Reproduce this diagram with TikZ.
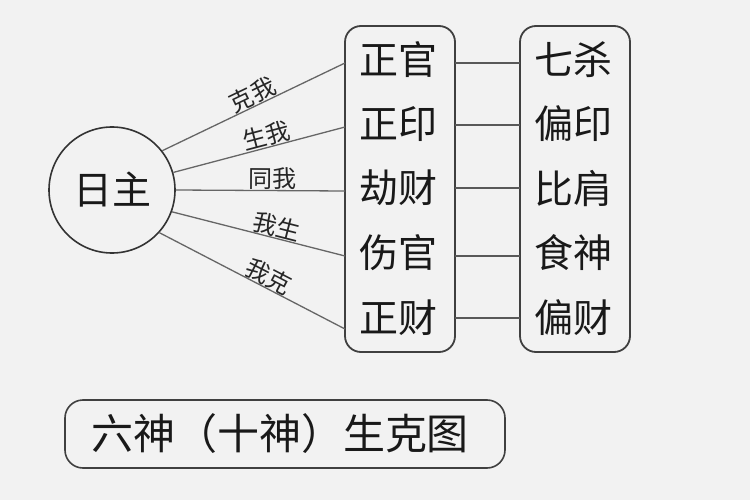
\documentclass[tikz,border=0pt]{standalone}
\usepackage{fontspec}
\setmainfont{Noto Sans CJK SC}
\begin{document}
\begin{tikzpicture}[x=1pt,y=-1pt,
  bigtxt/.style={font=\fontsize{39}{41}\selectfont, text=black!90, inner sep=0pt},
  reltxt/.style={font=\fontsize{24}{25}\selectfont, text=black!85, inner sep=0pt, sloped, above},
  boxline/.style={draw=black!75, line width=1.8pt, rounded corners=16pt},
  conn/.style={draw=black!65, line width=1.6pt},
  spoke/.style={draw=black!60, line width=1.3pt}]
\fill[black!5] (0,0) rectangle (750,500);
\useasboundingbox (0,0) rectangle (750,500);
% boxes
\node[boxline, minimum width=110pt, minimum height=326pt] (L) at (400,189) {};
\node[boxline, minimum width=110pt, minimum height=326pt] (R) at (575,189) {};
% circle
\node[circle, draw=black!80, line width=1.6pt, minimum size=126pt, inner sep=0pt] (C) at (112,190) {};
\node[bigtxt] (ct) at (C.center) {日主};
% left texts
\node[bigtxt] (l1) at (398,60) {正官};
\node[bigtxt] (l2) at (398,124) {正印};
\node[bigtxt] (l3) at (398,188) {劫财};
\node[bigtxt] (l4) at (398,253) {伤官};
\node[bigtxt] (l5) at (398,318) {正财};
% right texts
\node[bigtxt] (r1) at (573,60) {七杀};
\node[bigtxt] (r2) at (573,124) {偏印};
\node[bigtxt] (r3) at (573,188) {比肩};
\node[bigtxt] (r4) at (573,253) {食神};
\node[bigtxt] (r5) at (573,318) {偏财};
% connectors between boxes
\foreach \i/\yy in {1/63,2/125,3/188,4/256,5/318}{
  \coordinate (la\i) at (455,\yy);
  \coordinate (ra\i) at (520,\yy);
  \draw[conn] (la\i) -- (ra\i);
}
% spokes
\coordinate (e1) at (345,63);
\coordinate (e2) at (345,127);
\coordinate (e3) at (345,191);
\coordinate (e4) at (345,256);
\coordinate (e5) at (345,329);
\draw[spoke] (C.38) -- node[reltxt, pos=0.52] (t1) {克我} (e1);
\draw[spoke] (C.16) -- node[reltxt, pos=0.56] (t2) {生我} (e2);
\draw[spoke] (C.0) -- node[reltxt, pos=0.57] (t3) {同我} (e3);
\draw[spoke] (C.-20) -- node[reltxt, pos=0.59] (t4) {我生} (e4);
\draw[spoke] (C.-42) -- node[reltxt, pos=0.56] (t5) {我克} (e5);
% title
\node[draw=black!75, line width=1.6pt, rounded corners=18pt, minimum width=440pt, minimum height=68pt] (T) at (285,434) {};
\node[font=\fontsize{42}{44}\selectfont, text=black!90, inner sep=0pt] (tt) at (280,434) {六神（十神）生克图};
\end{tikzpicture}
\end{document}
